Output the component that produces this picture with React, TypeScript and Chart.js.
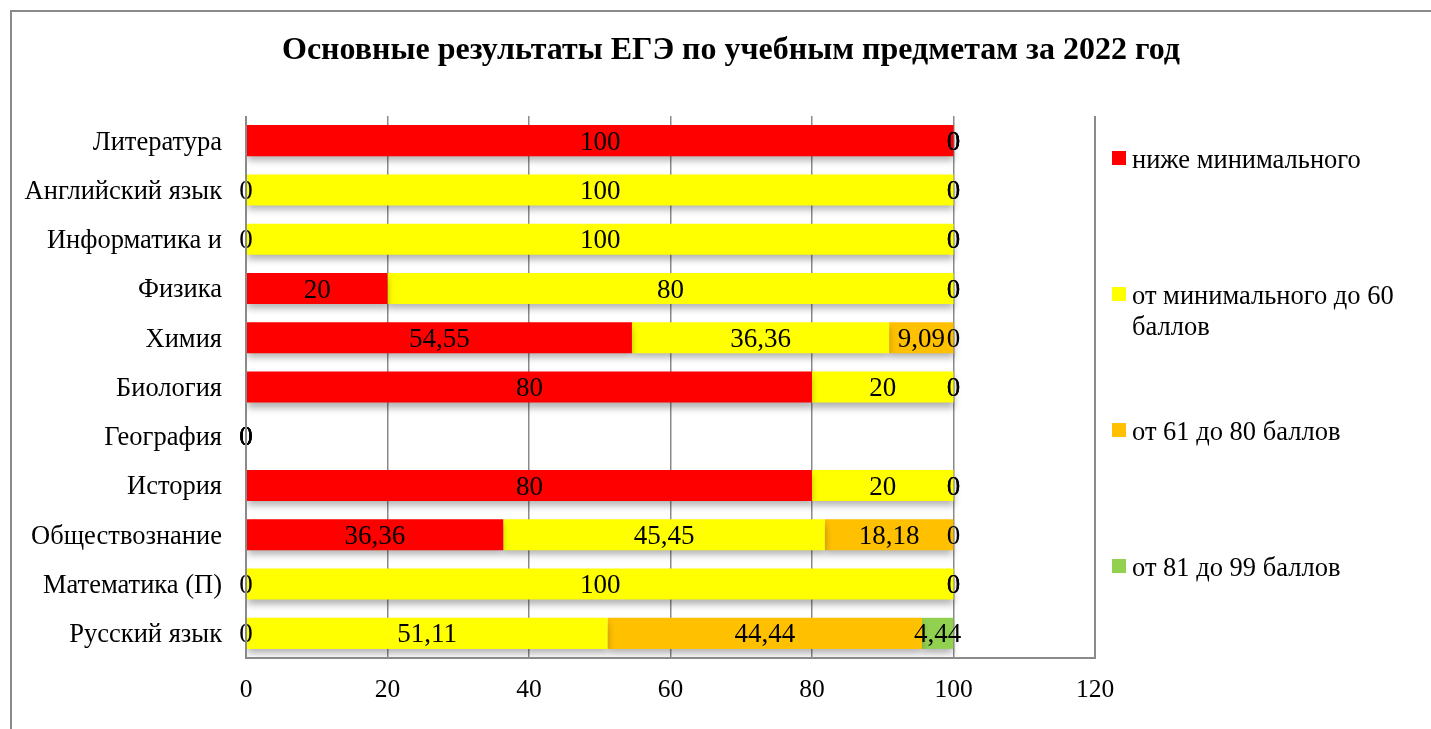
import React, { useEffect, useRef } from "react";
import { Chart, registerables } from "chart.js";

Chart.register(...registerables);

const TITLE = "Основные результаты ЕГЭ по учебным предметам за 2022 год";
const categories = [
  "Литература",
  "Английский язык",
  "Информатика и",
  "Физика",
  "Химия",
  "Биология",
  "География",
  "История",
  "Обществознание",
  "Математика (П)",
  "Русский язык",
];
const belowMin = [100, 0, 0, 20, 54.55, 80, 0, 80, 36.36, 0, 0];
const minTo60 = [0, 100, 100, 80, 36.36, 20, 0, 20, 45.45, 100, 51.11];
const from61to80 = [0, 0, 0, 0, 9.09, 0, 0, 0, 18.18, 0, 44.44];
const from81to99 = [0, 0, 0, 0, 0, 0, 0, 0, 0, 0, 4.44];
const seriesNames = [
  "ниже минимального",
  "от минимального до 60 баллов",
  "от 61 до 80 баллов",
  "от 81 до 99 баллов",
];
const legendLines = [
  ["ниже минимального"],
  ["от минимального до 60", "баллов"],
  ["от 61 до 80 баллов"],
  ["от 81 до 99 баллов"],
];
const colors = ["#FF0000", "#FFFF00", "#FFC000", "#92D050"];
const xTicks = { min: 0, max: 120, step: 20 };

const FONT = "'Liberation Serif', 'Times New Roman', serif";
const LABEL_SIZE = 27;
const YTICK_SIZE = 26.5;
const XTICK_SIZE = 25.5;
const LEGEND_SIZE = 26.5;
const TITLE_SIZE = 32;

const fmt = (v: number) => String(Math.round(v * 100) / 100).replace(".", ",");

const decorPlugin = {
  id: "decor",
  beforeDraw(chart: any) {
    const ctx = chart.ctx;
    ctx.save();
    ctx.fillStyle = "#ffffff";
    ctx.fillRect(0, 0, chart.width, chart.height);
    ctx.strokeStyle = "#8a8a8a";
    ctx.lineWidth = 2;
    ctx.strokeRect(11, 11, chart.width + 20, chart.height + 20);
    ctx.restore();
  },
  beforeDatasetsDraw(chart: any) {
    const ctx = chart.ctx;
    ctx.save();
    ctx.shadowColor = "rgba(0,0,0,0.3)";
    ctx.shadowBlur = 7;
    ctx.shadowOffsetY = 5;
  },
  afterDatasetsDraw(chart: any) {
    const ctx = chart.ctx;
    ctx.restore();
    // data labels
    ctx.save();
    ctx.fillStyle = "#000";
    ctx.font = `${LABEL_SIZE}px ${FONT}`;
    ctx.textAlign = "center";
    ctx.textBaseline = "middle";
    chart.data.datasets.forEach((ds: any, i: number) => {
      const meta = chart.getDatasetMeta(i);
      meta.data.forEach((el: any, j: number) => {
        const v = ds.data[j];
        const cx = (el.x + el.base) / 2;
        ctx.fillText(fmt(v), cx, el.y + 2);
      });
    });
    ctx.restore();
    // plot area frame
    const a = chart.chartArea;
    ctx.save();
    ctx.strokeStyle = "#8a8a8a";
    ctx.lineWidth = 2;
    ctx.beginPath();
    ctx.moveTo(a.left, a.top);
    ctx.lineTo(a.left, a.bottom);
    ctx.lineTo(a.right, a.bottom);
    ctx.lineTo(a.right, a.top);
    ctx.stroke();
    ctx.restore();
  },
  afterDraw(chart: any) {
    const ctx = chart.ctx;
    ctx.save();
    // title
    ctx.fillStyle = "#000";
    ctx.font = `bold ${TITLE_SIZE}px ${FONT}`;
    ctx.textAlign = "center";
    ctx.textBaseline = "middle";
    ctx.fillText(TITLE, 731, 51);
    // legend
    const ys = [158, 294, 430, 566];
    ctx.font = `${LEGEND_SIZE}px ${FONT}`;
    ctx.textAlign = "left";
    legendLines.forEach((lines, i) => {
      ctx.fillStyle = colors[i];
      ctx.fillRect(1112, ys[i] - 7, 14, 14);
      ctx.fillStyle = "#000";
      lines.forEach((t, k) => {
        ctx.fillText(t, 1132, ys[i] + 3 + k * 31);
      });
    });
    ctx.restore();
  },
};

export default function App() {
  const ref = useRef<HTMLCanvasElement | null>(null);
  useEffect(() => {
    document.body.style.margin = "0";
    const chart = new Chart(ref.current as HTMLCanvasElement, {
      type: "bar",
      data: {
        labels: categories,
        datasets: [belowMin, minTo60, from61to80, from81to99].map((d, i) => ({
          label: seriesNames[i],
          data: d,
          backgroundColor: colors[i],
          borderWidth: 0,
          barPercentage: 0.63,
          categoryPercentage: 1,
        })),
      },
      options: {
        indexAxis: "y",
        animation: false,
        responsive: false,
        layout: { padding: { top: 116, right: 336, left: 0, bottom: 0 } },
        plugins: {
          legend: { display: false },
          title: { display: false },
          tooltip: { enabled: false },
        },
        scales: {
          x: {
            stacked: true,
            min: xTicks.min,
            max: xTicks.max,
            ticks: {
              stepSize: xTicks.step,
              color: "#000",
              font: { family: FONT, size: XTICK_SIZE },
              padding: 17,
            },
            grid: { color: "#8a8a8a", lineWidth: 1.5, drawTicks: false },
            border: { display: false },
            afterFit: (s: any) => {
              s.height = 71;
            },
          },
          y: {
            stacked: true,
            ticks: {
              color: "#000",
              font: { family: FONT, size: YTICK_SIZE },
              padding: 24,
              labelOffset: 2,
              autoSkip: false,
            },
            grid: { display: false, drawTicks: false },
            border: { display: false },
            afterFit: (s: any) => {
              s.width = 246;
            },
          },
        },
      },
      plugins: [decorPlugin],
    } as any);
    return () => chart.destroy();
  }, []);
  return (
    <div style={{ position: "absolute", left: 0, top: 0, width: 1431, height: 729 }}>
      <canvas ref={ref} width={1431} height={729} style={{ width: 1431, height: 729 }} />
    </div>
  );
}
